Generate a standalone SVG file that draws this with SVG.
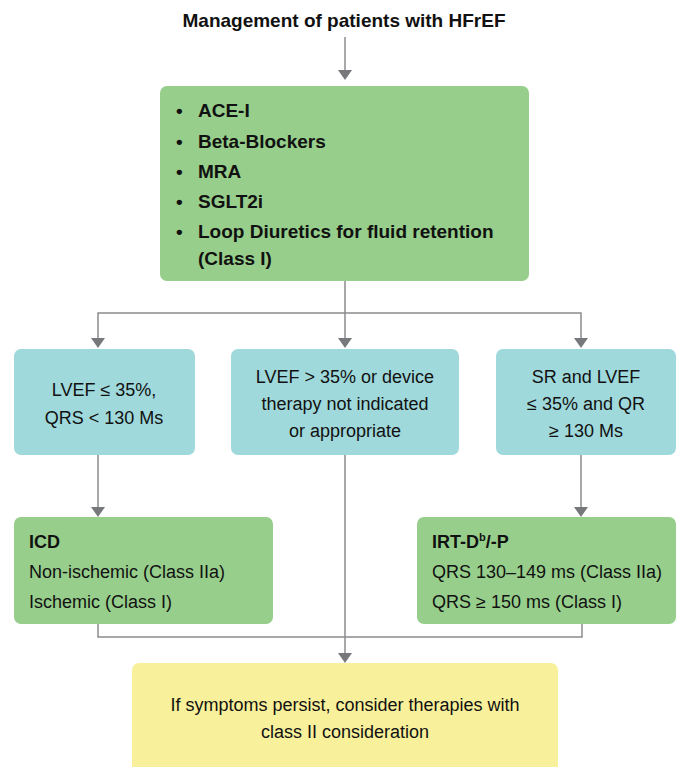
<svg xmlns="http://www.w3.org/2000/svg" width="677" height="767" viewBox="0 0 677 767">
<style>
text{font-family:"Liberation Sans",Arial,sans-serif;font-size:18px;fill:#111}
.b{font-weight:bold}
.c{text-anchor:middle}
.t{font-size:19px}
.green{fill:#97ce8b}
.blue{fill:#a0d9db}
.yellow{fill:#f8f09b}
.ln{stroke:#8c8c8e;stroke-width:1.5;fill:none}
.ah{fill:#77787b}
</style>
<rect width="677" height="767" fill="#fff"/>
<g id="title"><text class="b c t" x="344" y="27">Management of patients with HFrEF</text></g>
<g id="connectors">
<path class="ln" d="M345 37V71"/>
<polygon class="ah" points="338,70 352,70 345,80"/>
<path class="ln" d="M345 281V339M98 339V313H581V339"/>
<polygon class="ah" points="91,338 105,338 98,348"/>
<polygon class="ah" points="338,338 352,338 345,348"/>
<polygon class="ah" points="574,338 588,338 581,348"/>
<path class="ln" d="M98 455V508M581 455V508M345 455V654"/>
<polygon class="ah" points="91,507 105,507 98,517"/>
<polygon class="ah" points="574,507 588,507 581,517"/>
<path class="ln" d="M98 624V637H582V624"/>
<polygon class="ah" points="338,653 352,653 345,663"/>
</g>
<g id="meds">
<rect class="green" x="160" y="86" width="369" height="195" rx="7"/>
<text class="b t"><tspan x="176" y="117">•</tspan><tspan x="198" y="117">ACE-I</tspan></text>
<text class="b t"><tspan x="176" y="148">•</tspan><tspan x="198" y="148">Beta-Blockers</tspan></text>
<text class="b t"><tspan x="176" y="178">•</tspan><tspan x="198" y="178">MRA</tspan></text>
<text class="b t"><tspan x="176" y="208">•</tspan><tspan x="198" y="208">SGLT2i</tspan></text>
<text class="b t"><tspan x="176" y="238">•</tspan><tspan x="198" y="238">Loop Diuretics for fluid retention</tspan></text>
<text class="b t" x="198" y="265">(Class I)</text>
</g>
<g id="lvef-low">
<rect class="blue" x="14" y="349" width="181" height="106" rx="7"/>
<text class="c" x="104" y="396">LVEF ≤ 35%,</text>
<text class="c" x="104" y="424">QRS &lt; 130 Ms</text>
</g>
<g id="lvef-high">
<rect class="blue" x="231" y="349" width="228" height="106" rx="7"/>
<text class="c" x="345" y="383">LVEF &gt; 35% or device</text>
<text class="c" x="345" y="410">therapy not indicated</text>
<text class="c" x="345" y="437">or appropriate</text>
</g>
<g id="sr-lvef">
<rect class="blue" x="496" y="349" width="180" height="106" rx="7"/>
<text class="c" x="586" y="383">SR and LVEF</text>
<text class="c" x="586" y="410">≤ 35% and QR</text>
<text class="c" x="586" y="437">≥ 130 Ms</text>
</g>
<g id="icd">
<rect class="green" x="14" y="517" width="259" height="107" rx="7"/>
<text class="b" x="29" y="548">ICD</text>
<text x="29" y="578">Non-ischemic (Class IIa)</text>
<text x="29" y="608">Ischemic (Class I)</text>
</g>
<g id="crt">
<rect class="green" x="417" y="517" width="259" height="107" rx="7"/>
<text class="b" x="432" y="548">IRT-D<tspan font-size="11" dy="-7">b</tspan><tspan dy="7">/-P</tspan></text>
<text x="432" y="578">QRS 130–149 ms (Class IIa)</text>
<text x="432" y="608">QRS ≥ 150 ms (Class I)</text>
</g>
<g id="persist">
<rect class="yellow" x="132" y="663" width="426" height="112" rx="7"/>
<text class="c" x="345" y="711">If symptoms persist, consider therapies with</text>
<text class="c" x="345" y="738">class II consideration</text>
</g>
</svg>
